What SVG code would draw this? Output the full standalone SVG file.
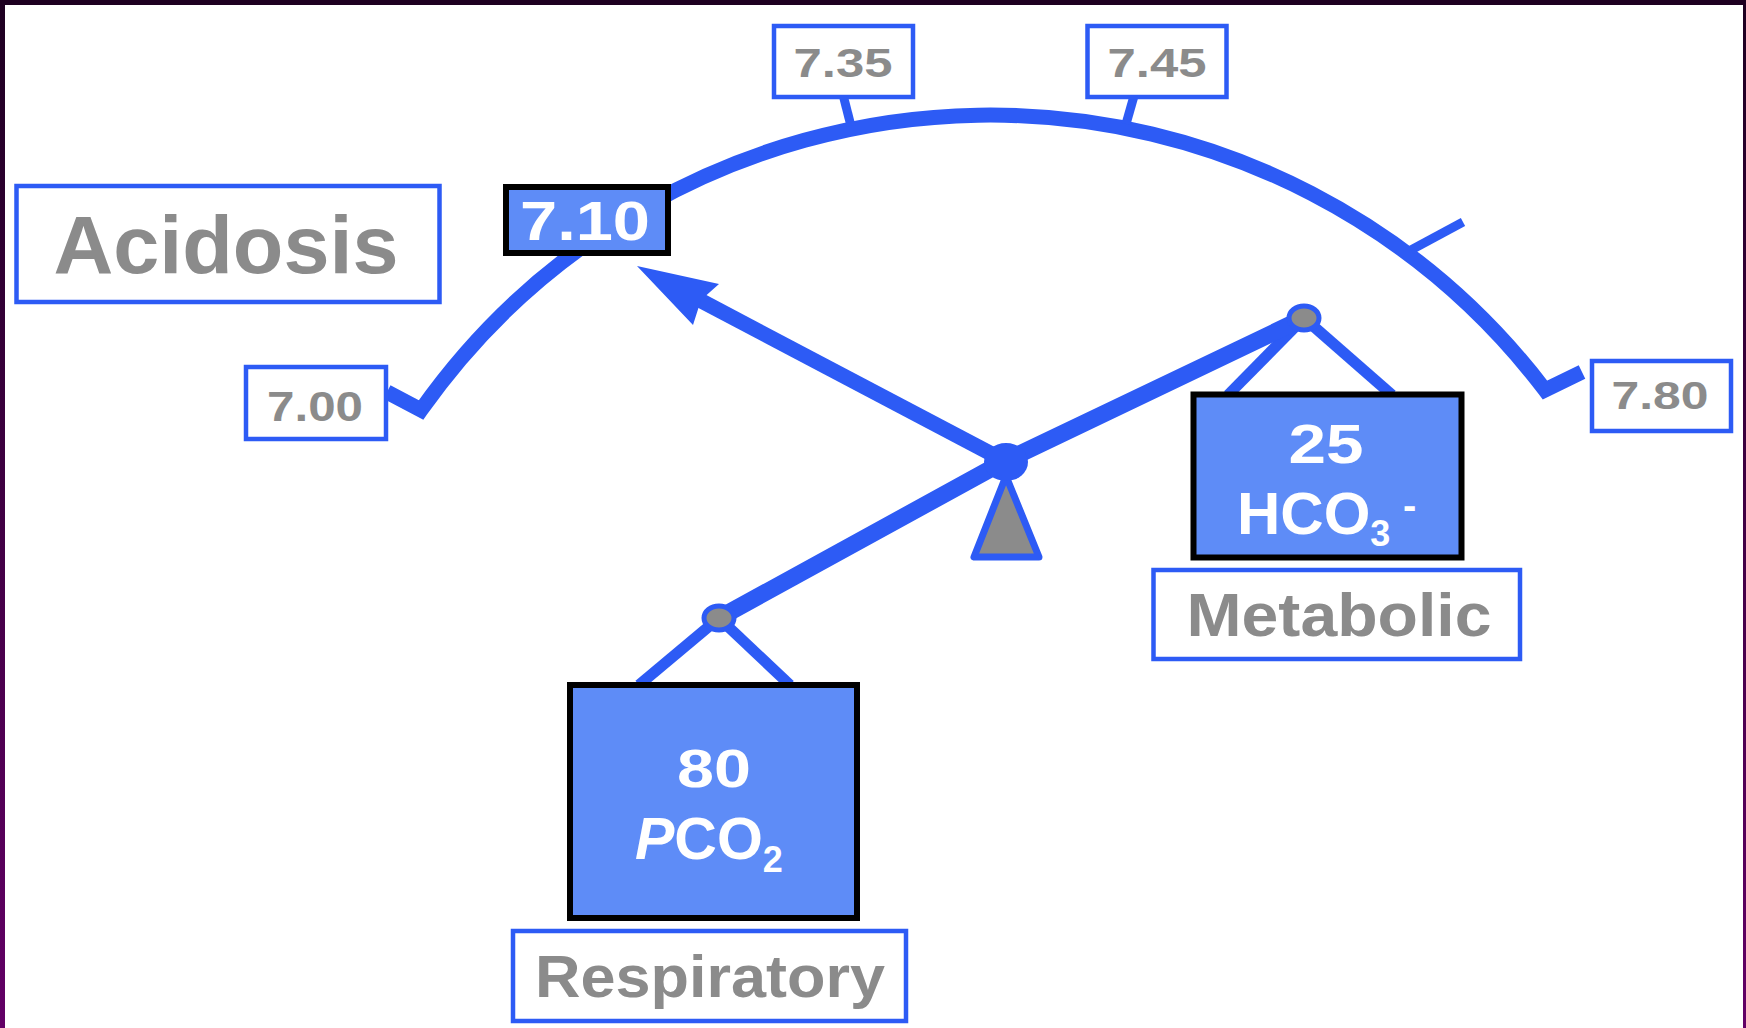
<svg xmlns="http://www.w3.org/2000/svg" width="1746" height="1028" viewBox="0 0 1746 1028">
  <defs>
    <linearGradient id="edge" x1="0" y1="0" x2="0" y2="1">
      <stop offset="0" stop-color="#1e0021"/>
      <stop offset="1" stop-color="#630066"/>
    </linearGradient>
    <style>
      .lbl { fill: #ffffff; stroke: #2d5bf5; stroke-width: 4.5; }
      .val { fill: #5e8cf7; stroke: #000000; stroke-width: 6; }
      .gt { font-family: "Liberation Sans", Arial, sans-serif; font-weight: bold; fill: #8b8b8b; text-anchor: middle; }
      .wt { font-family: "Liberation Sans", Arial, sans-serif; font-weight: bold; fill: #ffffff; }
      .ln { fill: none; stroke: #2d5bf5; stroke-linecap: butt; }
      .dot { fill: #8b8b8b; stroke: #2d5bf5; stroke-width: 5; }
    </style>
  </defs>

  <rect x="0" y="0" width="1746" height="1028" fill="#ffffff"/>
  <rect x="0" y="0" width="5" height="1028" fill="url(#edge)"/>
  <rect x="1743" y="0" width="3" height="1028" fill="url(#edge)"/>
  <rect x="0" y="0" width="1746" height="5" fill="#1e0021"/>

  <g id="connectors">
    <path class="ln" stroke-width="15" stroke-linejoin="miter" d="M 387 392 L 421 410 A 697 697 0 0 1 1545 390 L 1582 372"/>
    <line class="ln" stroke-width="9" x1="851" y1="126" x2="840" y2="83"/>
    <line class="ln" stroke-width="9" x1="1126" y1="124" x2="1138" y2="82"/>
    <line class="ln" stroke-width="9" x1="1411" y1="250" x2="1463" y2="222"/>
    <line class="ln" stroke-width="15" x1="1005" y1="461" x2="692" y2="296"/>
    <polygon fill="#2d5bf5" points="637,266 719,284 701,300 693,325"/>
    <line class="ln" stroke-width="11" x1="719" y1="618" x2="639" y2="685"/>
    <line class="ln" stroke-width="11" x1="719" y1="618" x2="790" y2="685"/>
    <line class="ln" stroke-width="11" x1="1304" y1="318" x2="1228" y2="395"/>
    <line class="ln" stroke-width="11" x1="1304" y1="318" x2="1392" y2="395"/>
  </g>

  <g id="fulcrum">
    <polygon points="1006,476 974,557 1039,557" fill="#8b8b8b" stroke="#2d5bf5" stroke-width="7" stroke-linejoin="round"/>
    <polyline class="ln" stroke-width="17" stroke-linejoin="round" points="719,618 1005,461 1304,318"/>
    <ellipse cx="1006" cy="462" rx="22" ry="19" fill="#2d5bf5"/>
    <ellipse class="dot" cx="719" cy="618" rx="15" ry="12"/>
    <ellipse class="dot" cx="1304" cy="318" rx="15" ry="12"/>
  </g>

  <g id="acidosis">
    <rect class="lbl" x="16.5" y="186" width="423" height="116"/>
    <text class="gt" x="226" y="273" font-size="82" textLength="345" lengthAdjust="spacingAndGlyphs">Acidosis</text>
  </g>

  <g id="ph710">
    <rect class="val" x="506" y="187" width="162" height="66"/>
    <text class="wt" x="585" y="240" font-size="56" text-anchor="middle" textLength="130" lengthAdjust="spacingAndGlyphs">7.10</text>
  </g>

  <g id="ph700">
    <rect class="lbl" x="246" y="367" width="140" height="72"/>
    <text class="gt" x="315" y="421" font-size="43" textLength="96" lengthAdjust="spacingAndGlyphs">7.00</text>
  </g>

  <g id="ph735">
    <rect class="lbl" x="774" y="26" width="139" height="71"/>
    <text class="gt" x="843" y="77" font-size="41" textLength="99" lengthAdjust="spacingAndGlyphs">7.35</text>
  </g>

  <g id="ph745">
    <rect class="lbl" x="1087.5" y="26" width="139" height="71"/>
    <text class="gt" x="1157" y="77" font-size="41" textLength="99" lengthAdjust="spacingAndGlyphs">7.45</text>
  </g>

  <g id="ph780">
    <rect class="lbl" x="1592" y="361" width="139" height="70"/>
    <text class="gt" x="1660" y="409" font-size="39" textLength="97" lengthAdjust="spacingAndGlyphs">7.80</text>
  </g>

  <g id="hco3">
    <rect class="val" x="1193.5" y="394.5" width="268" height="163"/>
    <text class="wt" x="1326" y="463" font-size="55" text-anchor="middle" textLength="75" lengthAdjust="spacingAndGlyphs">25</text>
    <text class="wt" x="1237" y="534" font-size="60">HCO<tspan font-size="36" dy="12">3</tspan><tspan font-size="40" x="1403" dy="-27">-</tspan></text>
  </g>

  <g id="metabolic">
    <rect class="lbl" x="1153.5" y="570" width="366.5" height="89"/>
    <text class="gt" x="1339" y="636" font-size="61" textLength="305" lengthAdjust="spacingAndGlyphs">Metabolic</text>
  </g>

  <g id="pco2">
    <rect class="val" x="570" y="685" width="287" height="233"/>
    <text class="wt" x="714" y="787" font-size="54" text-anchor="middle" textLength="74" lengthAdjust="spacingAndGlyphs">80</text>
    <text class="wt" x="635" y="859" font-size="59"><tspan font-style="italic">P</tspan>CO<tspan font-size="36" dy="13">2</tspan></text>
  </g>

  <g id="respiratory">
    <rect class="lbl" x="513" y="931" width="393" height="90"/>
    <text class="gt" x="710" y="997" font-size="60" textLength="350" lengthAdjust="spacingAndGlyphs">Respiratory</text>
  </g>
</svg>
